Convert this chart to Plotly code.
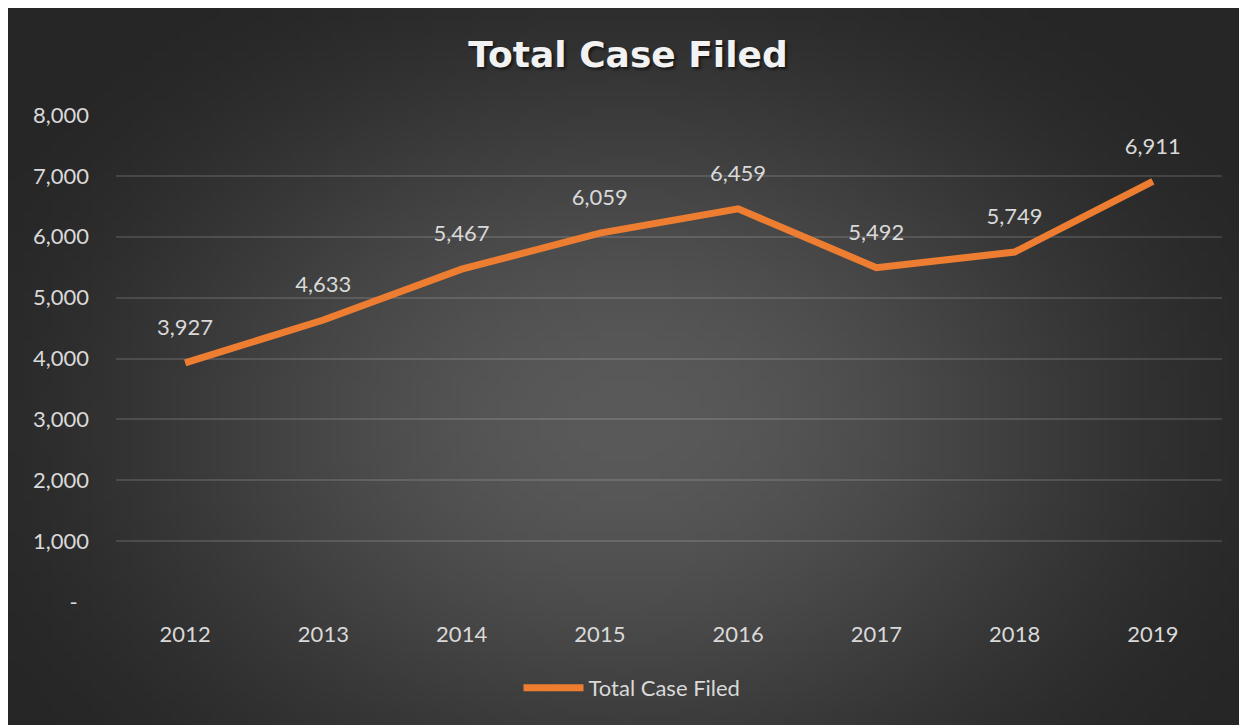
import base64
import struct
import zlib

import plotly.graph_objects as go

# data
YEARS = ['2012', '2013', '2014', '2015', '2016', '2017', '2018', '2019']
CASES = [3927, 4633, 5467, 6059, 6459, 5492, 5749, 6911]
Y_TICKS = [0, 1000, 2000, 3000, 4000, 5000, 6000, 7000, 8000]
Y_TICK_TEXT = ['-\u00a0\u00a0', '1,000', '2,000', '3,000', '4,000',
               '5,000', '6,000', '7,000', '8,000']

# the page body adds an 8px offset, so the figure is drawn 8px smaller
OFF = 8
W, H = 1247 - OFF, 725 - OFF
# plot area in page pixels: x 116..1222, y 115..602
PX0, PX1, PY0, PY1 = 116, 1222, 115, 602
ORANGE = '#ED7D31'
TXT = '#D9D9D9'
FONT = 'Lato, Open Sans, sans-serif'


def px_x(x):
    return (x - PX0) / (PX1 - PX0)


def px_y(y):
    return (PY1 - y) / (PY1 - PY0)


def glow_png(w, h):
    """Small radial-gradient PNG (stretched later) for the dark card."""
    inner, outer = 0x5A, 0x26
    rows = []
    for j in range(h):
        row = bytearray([0])
        for i in range(w):
            dx = (i / (w - 1) - 0.5) / 0.62
            dy = (j / (h - 1) - 0.58) / 0.78
            t = min(1.0, (dx * dx + dy * dy) ** 0.5)
            t = t * t * (3 - 2 * t)
            v = int(inner + (outer - inner) * t)
            row += bytes([v, v, v])
        rows.append(bytes(row))
    raw = zlib.compress(b''.join(rows), 9)

    def chunk(tag, data):
        return (struct.pack('>I', len(data)) + tag + data
                + struct.pack('>I', zlib.crc32(tag + data) & 0xffffffff))

    png = (b'\x89PNG\r\n\x1a\n'
           + chunk(b'IHDR', struct.pack('>IIBBBBB', w, h, 8, 2, 0, 0, 0))
           + chunk(b'IDAT', raw) + chunk(b'IEND', b''))
    return 'data:image/png;base64,' + base64.b64encode(png).decode()


fig = go.Figure()
fig.add_trace(go.Scatter(
    x=YEARS, y=CASES, mode='lines', name='Total Case Filed',
    line=dict(color=ORANGE, width=7), hoverinfo='x+y',
))
fig.add_trace(go.Scatter(
    x=YEARS, y=CASES, mode='markers+text', showlegend=False, hoverinfo='skip',
    marker=dict(size=34, opacity=0, color=ORANGE),
    text=[f"{v:,}" for v in CASES],
    textposition='top center',
    textfont=dict(size=22, color=TXT, family=FONT),
))

card_x0, card_x1, card_y0, card_y1 = 7, 1243, 6, 725
fig.add_layout_image(dict(
    source=glow_png(124, 72), xref='paper', yref='paper',
    x=px_x(card_x0), y=px_y(card_y0),
    sizex=px_x(card_x1) - px_x(card_x0), sizey=px_y(card_y0) - px_y(card_y1),
    sizing='stretch', xanchor='left', yanchor='top', layer='below',
))

fig.update_layout(
    width=W, height=H,
    margin=dict(l=PX0 - OFF, r=1247 - PX1, t=PY0 - OFF, b=725 - PY1),
    paper_bgcolor='white',
    plot_bgcolor='rgba(0,0,0,0)',
    title=dict(text='<b>Total Case Filed</b>', x=px_x(628), xref='paper', xanchor='center',
               y=1 - (54 - OFF) / H, yanchor='middle',
               font=dict(size=36, color='#F2F2F2', family='DejaVu Sans',
                         shadow='2px 2px 3px rgba(0,0,0,0.6)')),
    xaxis=dict(type='category', range=[-0.5, 7.5], showgrid=False, zeroline=False,
               showline=False, ticks='', tickfont=dict(size=22, color=TXT, family=FONT),
               ticklabelstandoff=17, fixedrange=True),
    yaxis=dict(range=[0, 8000], tickvals=Y_TICKS, ticktext=Y_TICK_TEXT,
               showgrid=True, gridcolor='rgba(255,255,255,0.13)', gridwidth=1.5,
               zeroline=False, showline=False, ticks='',
               tickfont=dict(size=22, color=TXT, family=FONT),
               ticklabelstandoff=26, fixedrange=True),
    showlegend=True,
    legend=dict(orientation='h', x=px_x(632), xanchor='center', y=px_y(688), yanchor='middle',
                font=dict(size=22, color=TXT, family=FONT), itemwidth=60,
                bgcolor='rgba(0,0,0,0)'),
    hovermode='closest',
)

fig.write_html("out.html")
